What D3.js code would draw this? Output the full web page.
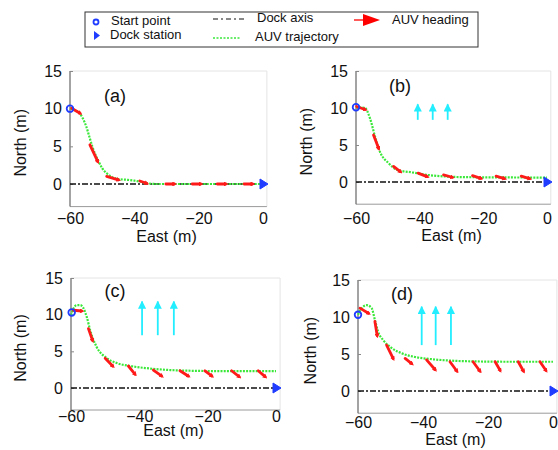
<!DOCTYPE html>
<html>
<head>
<meta charset="utf-8">
<script src="https://cdn.jsdelivr.net/npm/d3@7"></script>
<style>
  body { margin: 0; background: #fff; }
  svg { font-family: "Liberation Sans", Arial, sans-serif; }
</style>
</head>
<body>
<svg id="chart" width="558" height="450"></svg>
<script>
// ---- data ----
const xTicks = [-60, -40, -20, 0];
const yTicks = [0, 5, 10, 15];
const panelNames = ["(a)", "(b)", "(c)", "(d)"];

const startA = [-60, 10];
const startB = [-60, 10.1];
const startC = [-59.8, 10.3];
const startD = [-60, 10.3];

const trajA = [[-60,10],[-58.5,9.8],[-57,9.4],[-56,8.7],[-55,7.7],[-54,6.3],[-53,4.9],[-52,3.8],[-51,2.9],[-50,2.1],[-48.5,1.4],[-47,0.95],[-45,0.65],[-42,0.55],[-40,0.45],[-38,0.3],[-36,0.1],[-33,0],[-20,0],[0,0]];
const trajB = [[-60,10.1],[-57.2,10],[-55.6,8.6],[-54,6.1],[-52.5,4.1],[-49.9,2.6],[-46.8,1.6],[-42.4,1.3],[-37.4,0.95],[-31,0.72],[-25,0.65],[-15,0.62],[0,0.6]];
const trajC = [[-60,9.9],[-59.2,10.9],[-58.3,11.3],[-57.3,11.3],[-56.5,11],[-55.4,9.7],[-54.4,7.9],[-52.5,5.6],[-49.6,4.1],[-46.6,3.4],[-42.7,3],[-37.8,2.7],[-31,2.45],[-25,2.35],[-15,2.3],[0,2.3]];
const trajD = [[-60,10.3],[-59,11.1],[-57.3,11.6],[-55.8,11.2],[-54.8,9.6],[-53.8,8],[-52.3,6.9],[-49.6,5.8],[-46.6,5.1],[-42.5,4.6],[-37.3,4.3],[-31.2,4.1],[-24,4],[-12,3.95],[0,3.95]];

// heading arrows: [x0, y0, x1, y1]
const headA = [[-59.5,10.05,-56.9,9.4],[-53.8,5.2,-51.4,3.0],[-48.6,1.0,-45,0.55],[-38.3,0.4,-36.2,0.1],[-30.2,0,-27.6,0],[-22,0,-19.4,0],[-14.2,0,-11.6,0],[-5.9,0,-3.3,0]];
const headB = [[-59.8,10.2,-57.2,9.8],[-54.5,6.35,-52.9,4.55],[-48.2,2.1,-46.1,1.4],[-40.5,1.2,-37.7,0.72],[-32.5,0.95,-29.8,0.64],[-23.4,0.85,-20.8,0.5],[-16,0.8,-13.4,0.45],[-8.1,0.8,-5.5,0.45]];
const headC = [[-59.3,10.6,-56.9,10.5],[-54.9,8.1,-53.7,6.5],[-50,4.05,-47.8,3],[-43.2,3,-41.3,1.9],[-35.9,2.45,-33.5,1.64],[-28.1,2.35,-25.7,1.64],[-20.8,2.35,-18.8,1.64],[-13,2.35,-10.8,1.55],[-5.2,2.35,-3.2,1.55]];
const headD = [[-59.4,11.2,-56.8,10.5],[-54.8,9.4,-54.1,7.5],[-51.2,6.2,-49.2,4.4],[-45.5,4.4,-43.5,3.7],[-38.9,4.2,-36.3,2.9],[-31.7,3.95,-29.6,2.7],[-24.6,3.95,-22.5,2.7],[-17.8,3.95,-16.3,2.8],[-10.7,3.95,-9.1,2.7],[-4,3.95,-2.2,2.8]];

// current arrows: [x, yTail, yTip]
const currB = [[-40.6,8.4,10.5],[-35.9,8.4,10.5],[-31.2,8.4,10.5]];
const currC = [[-39.2,7.2,11.8],[-34.6,7.2,11.8],[-29.9,7.2,11.8]];
const currD = [[-40.4,6.2,11.4],[-36.1,6.2,11.4],[-31.4,6.2,11.4]];

const legendLabels = ["Start point", "Dock station", "Dock axis", "AUV trajectory", "AUV heading"];

// ---- layout ----
const panels = [
  {name: panelNames[0], start: startA, traj: trajA, head: headA, curr: [], x0: 70, x1: 263, yTop: 71, yZero: 184, lbl: [115, 97], north: 22, eastY: 238, tickY: 220},
  {name: panelNames[1], start: startB, traj: trajB, head: headB, curr: currB, x0: 356, x1: 547, yTop: 71, yZero: 182, lbl: [400, 87], north: 308, eastY: 237, tickY: 220},
  {name: panelNames[2], start: startC, traj: trajC, head: headC, curr: currC, x0: 71, x1: 276, yTop: 278, yZero: 388, lbl: [115, 292], north: 22, eastY: 432, tickY: 418},
  {name: panelNames[3], start: startD, traj: trajD, head: headD, curr: currD, x0: 358, x1: 553, yTop: 280, yZero: 391, lbl: [402, 295], north: 312, eastY: 441, tickY: 424}
];

const svg = d3.select("#chart");
const defs = svg.append("defs");
defs.append("marker").attr("id", "redHead")
  .attr("viewBox", "0 0 10 10").attr("refX", 4).attr("refY", 5)
  .attr("markerWidth", 1.7).attr("markerHeight", 1.7).attr("orient", "auto")
  .append("path").attr("d", "M0,0L10,5L0,10z").attr("fill", "#ff1a1a");
defs.append("marker").attr("id", "cyanHead")
  .attr("viewBox", "0 0 10 10").attr("refX", 9).attr("refY", 5)
  .attr("markerWidth", 4.5).attr("markerHeight", 4.5).attr("orient", "auto")
  .append("path").attr("d", "M0,0L10,5L0,10z").attr("fill", "#22eeff");

const green = "#3ae83a";
const blue = "#1f3cff";

panels.forEach(p => {
  const x = d3.scaleLinear().domain([-60, 0]).range([p.x0, p.x1]);
  const y = d3.scaleLinear().domain([0, 15]).range([p.yZero, p.yTop]);
  const xR = x(1.2), yB = y(-3);
  const g = svg.append("g");

  // frame
  g.append("line").attr("x1", p.x0).attr("x2", xR).attr("y1", p.yTop).attr("y2", p.yTop).attr("stroke", "#e4e4e4");
  g.append("line").attr("x1", xR).attr("x2", xR).attr("y1", p.yTop).attr("y2", yB).attr("stroke", "#e4e4e4");
  g.append("line").attr("x1", p.x0).attr("x2", xR).attr("y1", yB).attr("y2", yB).attr("stroke", "#9a9a9a");
  g.append("line").attr("x1", p.x0).attr("x2", p.x0).attr("y1", p.yTop).attr("y2", yB).attr("stroke", "#666").attr("stroke-width", 1.2);

  // axes via d3
  const xa = g.append("g").attr("transform", `translate(0,${yB})`)
    .call(d3.axisBottom(x).tickValues(xTicks).tickSize(0).tickPadding(0).tickFormat(d => d === 0 ? "0" : "\u2212" + Math.abs(d)));
  xa.select(".domain").remove();
  xa.selectAll("text").attr("font-size", 16).attr("fill", "#111").attr("dy", null)
    .attr("y", p.tickY - yB).attr("dominant-baseline", "middle");

  const ya = g.append("g").attr("transform", `translate(${p.x0},0)`)
    .call(d3.axisLeft(y).tickValues(yTicks).tickSize(-3).tickPadding(8));
  ya.select(".domain").remove();
  ya.selectAll("line").attr("stroke", "#888");
  ya.selectAll("text").attr("font-size", 16).attr("fill", "#111");

  g.append("text").attr("x", (p.x0 + p.x1) / 2).attr("y", p.eastY)
    .attr("text-anchor", "middle").attr("dominant-baseline", "middle")
    .attr("font-size", 16).attr("fill", "#111").text("East (m)");
  g.append("text").attr("transform", `translate(${p.north},${(p.yTop + yB) / 2 + 4}) rotate(-90)`)
    .attr("text-anchor", "middle").attr("dominant-baseline", "middle")
    .attr("font-size", 16).attr("fill", "#111").text("North (m)");
  g.append("text").attr("x", p.lbl[0]).attr("y", p.lbl[1])
    .attr("text-anchor", "middle").attr("dominant-baseline", "middle")
    .attr("font-size", 18).attr("fill", "#111").text(p.name);

  // dock axis
  g.append("line").attr("x1", x(-60)).attr("x2", x(0)).attr("y1", y(0)).attr("y2", y(0))
    .attr("stroke", "#111").attr("stroke-width", 1.6).attr("stroke-dasharray", "6,2,2,2");

  // current arrows
  g.selectAll(".curr").data(p.curr).join("line")
    .attr("x1", d => x(d[0])).attr("x2", d => x(d[0]))
    .attr("y1", d => y(d[1])).attr("y2", d => y(d[2]))
    .attr("stroke", "#22eeff").attr("stroke-width", 1.8).attr("marker-end", "url(#cyanHead)");

  // trajectory
  const line = d3.line().x(d => x(d[0])).y(d => y(d[1])).curve(d3.curveMonotoneX);
  g.append("path").attr("d", line(p.traj)).attr("fill", "none")
    .attr("stroke", green).attr("stroke-width", 2.2).attr("stroke-dasharray", "2,1.2");

  // heading arrows
  g.selectAll(".head").data(p.head).join("line")
    .attr("x1", d => x(d[0])).attr("y1", d => y(d[1]))
    .attr("x2", d => x(d[2])).attr("y2", d => y(d[3]))
    .attr("stroke", "#ff1a1a").attr("stroke-width", 2.8).attr("stroke-linecap", "round")
    .attr("marker-end", "url(#redHead)");

  // dock station + start point
  const tx = x(0), ty = y(0);
  g.append("path").attr("d", `M${tx - 3},${ty - 5}L${tx + 5},${ty}L${tx - 3},${ty + 5}Z`)
    .attr("fill", blue).attr("stroke", blue).attr("stroke-width", 1);
  g.append("circle").attr("cx", x(p.start[0])).attr("cy", y(p.start[1])).attr("r", 3.3)
    .attr("fill", "none").attr("stroke", blue).attr("stroke-width", 1.8);
});

// ---- legend ----
const lg = svg.append("g");
lg.append("rect").attr("x", 85).attr("y", 12).attr("width", 393).attr("height", 35)
  .attr("fill", "#fff").attr("stroke", "#333").attr("stroke-width", 1);
lg.append("circle").attr("cx", 96).attr("cy", 22).attr("r", 2.5)
  .attr("fill", "none").attr("stroke", blue).attr("stroke-width", 1.8);
lg.append("path").attr("d", "M94,31L100,35.5L94,40Z").attr("fill", blue);
lg.append("line").attr("x1", 213).attr("x2", 244).attr("y1", 19).attr("y2", 19)
  .attr("stroke", "#111").attr("stroke-width", 1.2).attr("stroke-dasharray", "5,3,2,3");
lg.append("line").attr("x1", 213).attr("x2", 241).attr("y1", 38).attr("y2", 38)
  .attr("stroke", green).attr("stroke-width", 1.4).attr("stroke-dasharray", "2,1.5");
lg.append("line").attr("x1", 354).attr("x2", 366).attr("y1", 20).attr("y2", 20)
  .attr("stroke", "#ff0000").attr("stroke-width", 1.3);
lg.append("path").attr("d", "M363,14L380,20L363,26Z").attr("fill", "#ff0000");
const legPos = [[111, 22], [110, 36], [257, 19], [255, 38], [392, 21]];
lg.selectAll(".lt").data(legendLabels).join("text")
  .attr("x", (d, i) => legPos[i][0]).attr("y", (d, i) => legPos[i][1])
  .attr("dominant-baseline", "middle").attr("font-size", 13).attr("fill", "#111")
  .text(d => d);
</script>
</body>
</html>
